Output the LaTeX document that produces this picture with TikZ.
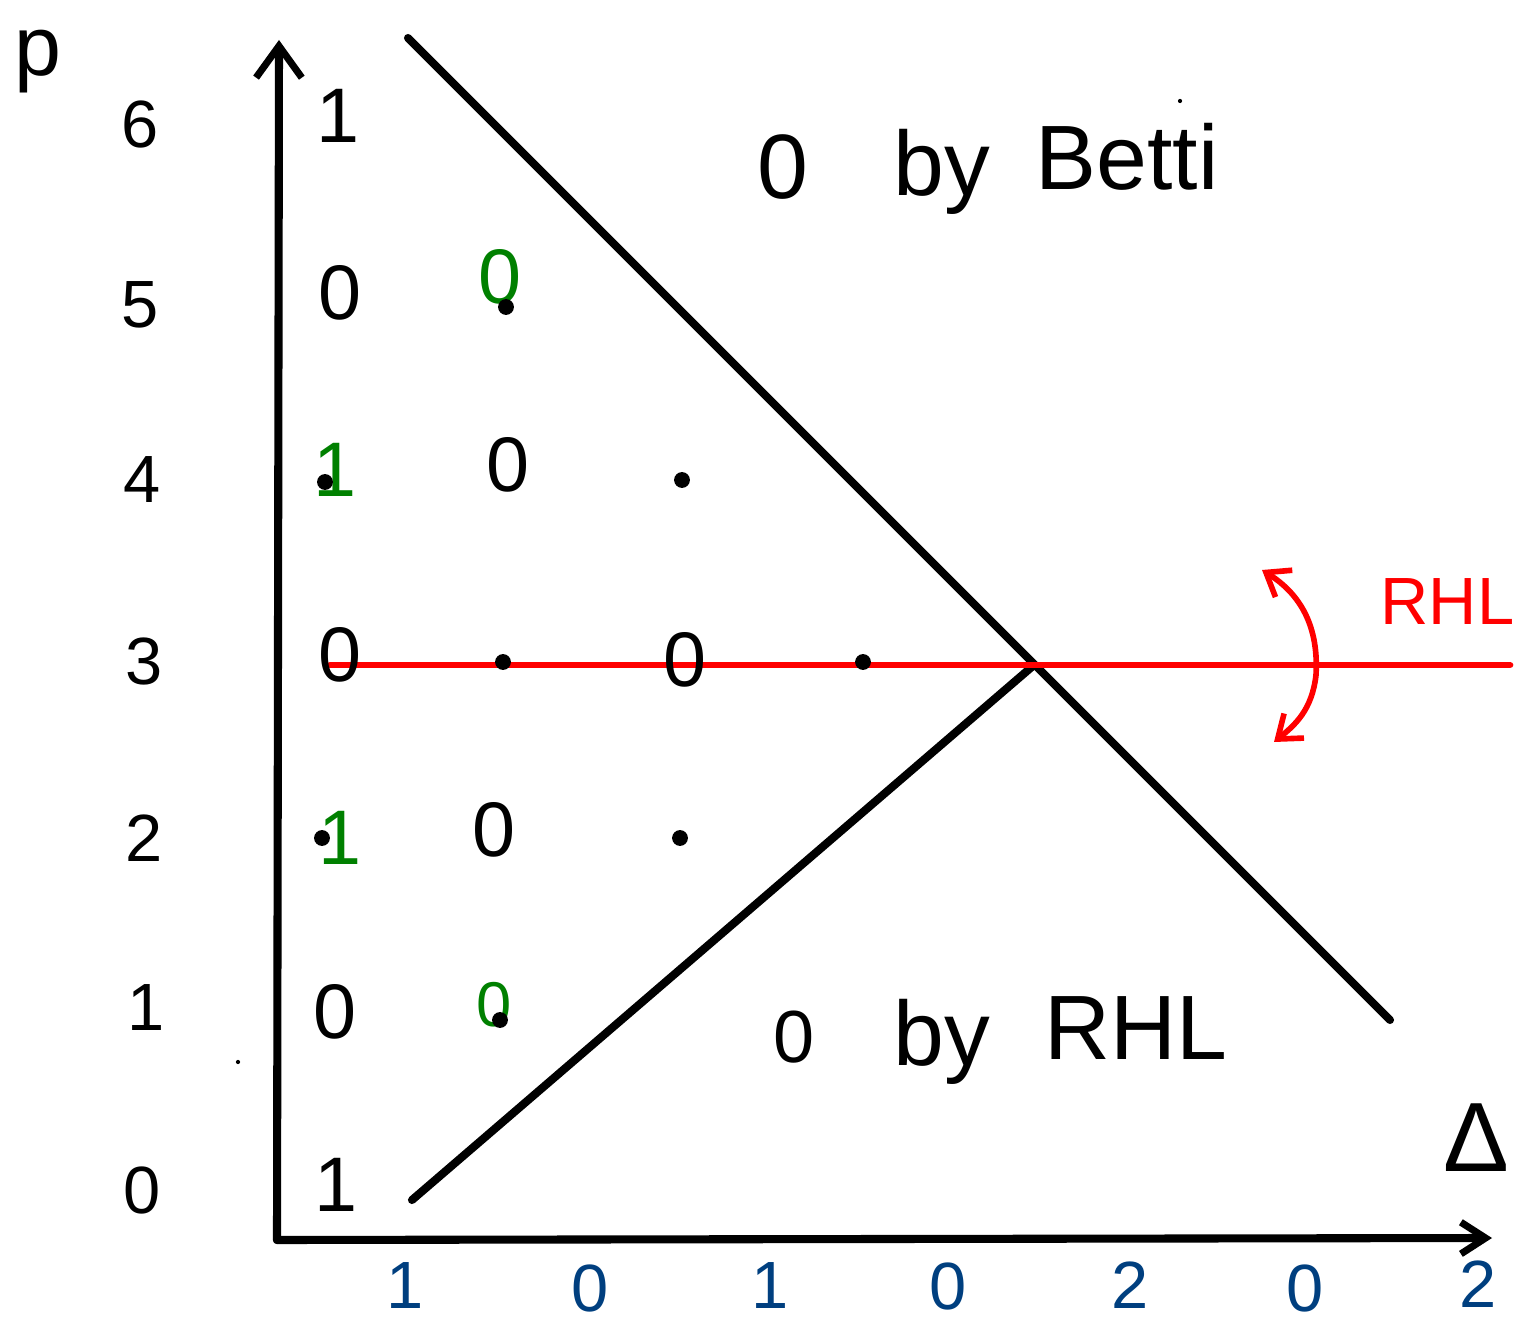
\documentclass[tikz,border=0pt]{standalone}
\usepackage{fontspec}
\setmainfont{Liberation Sans}
\usetikzlibrary{arrows.meta}
\definecolor{hgreen}{RGB}{0,128,0}
\definecolor{hblue}{RGB}{0,63,127}
\definecolor{hred}{RGB}{255,0,0}
\begin{document}
\begin{tikzpicture}[x=0.01cm,y=-0.01cm,
  axis/.style={line width=2.3pt,line cap=round},
  rowlab/.style={font=\fontsize{19}{22}\selectfont},
  collab/.style={font=\fontsize{19}{22}\selectfont,text=hblue,inner sep=0pt},
  ent/.style={font=\fontsize{22}{26}\selectfont},
  gent/.style={ent,text=hgreen},
  big/.style={font=\fontsize{26}{30}\selectfont},
  dot/.style={circle,fill=black,inner sep=0pt,minimum size=4.5pt},
  speck/.style={circle,fill=black,inner sep=0pt,minimum size=1.2pt}]
\useasboundingbox (0,0) rectangle (1518,1328);
% axes
\coordinate (O) at (277,1240);
\coordinate (ytop) at (279,40);
\coordinate (xend) at (1492,1238);
\draw[axis,-{Straight Barb[length=9pt,width=13pt,line width=2pt]}] (O) -- (ytop);
\draw[axis,-{Straight Barb[length=7pt,width=9pt,line width=2pt]}] (O) -- (xend);
\node[font=\fontsize{24}{28}\selectfont] (p) at (38,62) {p};
\node[font=\fontsize{28}{32}\selectfont] (Delta) at (1476,1138) {Δ};
% row labels
\node[rowlab] (r6) at (140,125) {6};
\node[rowlab] (r5) at (140,305) {5};
\node[rowlab] (r4) at (142,480) {4};
\node[rowlab] (r3) at (144,662) {3};
\node[rowlab] (r2) at (144,838) {2};
\node[rowlab] (r1) at (146,1008) {1};
\node[rowlab] (r0) at (142,1190) {0};
% column labels
\node[collab] (c1) at (405,1286) {1};
\node[collab] (c2) at (590,1288) {0};
\node[collab] (c3) at (770,1286) {1};
\node[collab] (c4) at (948,1286) {0};
\node[collab] (c5) at (1130,1285) {2};
\node[collab] (c6) at (1305,1288) {0};
\node[collab] (c7) at (1478,1284) {2};
% diagonal lines
\coordinate (b1) at (408,38);
\coordinate (b2) at (1390,1020);
\coordinate (a1) at (412,1200);
\coordinate (a2) at (1034,665);
\draw[axis] (b1) -- (b2);
\draw[axis] (a1) -- (a2);
% red line
\coordinate (rl) at (330,665);
\coordinate (rr) at (1510,665);
\draw[hred,line width=1.9pt,line cap=round] (rl) -- (rr);
% entries column 1
\node[ent] (e16) at (338,116) {1};
\node[ent] (e15) at (340,293) {0};
\node[gent] (e14) at (335,470) {1};
\node[dot] (d14) at (325,482) {};
\node[ent] (e13) at (340,655) {0};
\node[gent] (e12) at (340,838) {1};
\node[dot] (d12) at (322,838) {};
\node[ent] (e11) at (335,1012) {0};
\node[ent] (e10) at (336,1185) {1};
% column 2
\node[gent] (e25) at (500,277) {0};
\node[dot] (d25) at (506,307) {};
\node[ent] (e24) at (508,465) {0};
\node[dot] (d23) at (503,662) {};
\node[ent] (e22) at (494,830) {0};
\node[gent,font=\fontsize{18}{22}\selectfont] (e21) at (494,1005) {0};
\node[dot] (d21) at (500,1020) {};
% column 3
\node[dot] (d34) at (682,480) {};
\node[ent] (e33) at (685,660) {0};
\node[dot] (d32) at (680,838) {};
% column 4
\node[dot] (d43) at (863,662) {};
% region labels
\node[big] (z1) at (783,167) {0};
\node[big] (by1) at (942,172) {by};
\node[big] (betti) at (1127,157) {Betti};
\node[font=\fontsize{21}{25}\selectfont] (z2) at (794,1037) {0};
\node[big] (by2) at (942,1042) {by};
\node[big] (rhl2) at (1136,1028) {RHL};
% red curved arrow and label
\coordinate (ra1) at (1262,570);
\coordinate (ra2) at (1274,742);
\draw[hred,line width=1.6pt,line cap=round,{Straight Barb[length=6pt,width=9pt,line width=1.6pt]}-{Straight Barb[length=6pt,width=9pt,line width=1.6pt]}]
  (ra1) .. controls (1310,600) and (1318,640) .. (1316,675) .. controls (1312,710) and (1295,725) .. (ra2);
\node[font=\fontsize{19}{22}\selectfont,text=hred,anchor=west,inner sep=0pt] (rhl) at (1380,602) {RHL};
% specks
\node[speck] (s1) at (1180,101) {};
\node[speck] (s2) at (238,1062) {};
\end{tikzpicture}
\end{document}
